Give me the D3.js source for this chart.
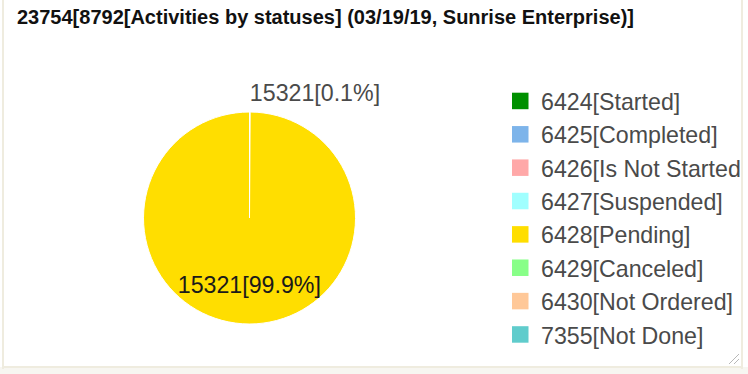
<!DOCTYPE html>
<html>
<head>
<meta charset="utf-8">
<script src="https://cdn.jsdelivr.net/npm/d3@7/dist/d3.min.js"></script>
<style>
  html, body { margin: 0; padding: 0; background: #fff; }
  svg { display: block; font-family: "Liberation Sans", Arial, sans-serif; }
</style>
</head>
<body>
<svg id="chart" width="748" height="374"></svg>
<script>
const titleText = "23754[8792[Activities by statuses] (03/19/19, Sunrise Enterprise)]";
const sliceLabels = ["15321[0.1%]", "15321[99.9%]"];
const sliceValues = [0.1, 99.9];
const sliceColors = ["#ffde00", "#ffde00"];
const legendLabels = ["6424[Started]", "6425[Completed]", "6426[Is Not Started]", "6427[Suspended]", "6428[Pending]", "6429[Canceled]", "6430[Not Ordered]", "7355[Not Done]"];
const legendColors = ["#009000", "#7db4ea", "#ffa8a8", "#a0ffff", "#ffde00", "#88ff88", "#ffc898", "#60cccc"];

const svg = d3.select("#chart");
const W = 748, H = 374;
const FS = 23.2;

svg.append("defs").append("clipPath").attr("id", "frameClip")
  .append("rect").attr("x", 4).attr("y", 0).attr("width", 736).attr("height", 366);

// frame
svg.append("rect").attr("x", 0).attr("y", 0).attr("width", W).attr("height", H).attr("fill", "#fff");
svg.append("rect").attr("x", 0).attr("y", 367).attr("width", W).attr("height", 7).attr("fill", "#f7f6f1");
svg.append("rect").attr("x", 2).attr("y", 0).attr("width", 2).attr("height", 369).attr("fill", "#efecdf");
svg.append("rect").attr("x", 741).attr("y", 0).attr("width", 2).attr("height", 369).attr("fill", "#efecdf");
svg.append("rect").attr("x", 2).attr("y", 366).attr("width", 741).attr("height", 2).attr("fill", "#efecdf");

// resize grip
const grip = svg.append("g").attr("stroke", "#b8b8b8").attr("stroke-width", 1);
grip.append("line").attr("x1", 729).attr("y1", 364).attr("x2", 739).attr("y2", 354);
grip.append("line").attr("x1", 734).attr("y1", 364).attr("x2", 739).attr("y2", 359);

const g = svg.append("g").attr("clip-path", "url(#frameClip)");

// title
g.append("text")
  .attr("x", 17).attr("y", 24)
  .attr("font-size", 20).attr("font-weight", "bold").attr("fill", "#111")
  .text(titleText);

// pie
const cx = 249.5, cy = 218, r = 106;
const pie = d3.pie().sort(null).value(d => d.v);
const arcs = pie(sliceValues.map((v, i) => ({ v, label: sliceLabels[i], color: sliceColors[i] })));
const arc = d3.arc().innerRadius(0).outerRadius(r);
const pg = g.append("g").attr("transform", `translate(${cx},${cy})`);
pg.selectAll("path").data(arcs).join("path")
  .attr("d", arc)
  .attr("fill", d => d.data.color)
  .attr("stroke", "#fff").attr("stroke-width", 1).attr("stroke-linejoin", "round");

arcs.forEach((d) => {
  const a = (d.startAngle + d.endAngle) / 2;
  if (d.endAngle - d.startAngle < 0.3) {
    const rr = r + 11;
    pg.append("text")
      .attr("x", Math.sin(a) * rr).attr("y", -Math.cos(a) * rr)
      .attr("font-size", FS).attr("fill", "#4a4a4a")
      .attr("text-anchor", "start")
      .text(d.data.label);
  } else {
    const rr = r * 0.63;
    pg.append("text")
      .attr("x", Math.sin(a) * rr).attr("y", -Math.cos(a) * rr)
      .attr("dy", "0.35em")
      .attr("font-size", FS).attr("fill", "#1a1a1a")
      .attr("text-anchor", "middle")
      .text(d.data.label);
  }
});

// legend
const ly = d3.scalePoint().domain(d3.range(legendLabels.length)).range([101, 334.5]);
const lg = g.append("g");
legendLabels.forEach((lab, i) => {
  const y = ly(i);
  lg.append("rect").attr("x", 512).attr("y", y - 8.3).attr("width", 16.5).attr("height", 16.5)
    .attr("fill", legendColors[i]);
  lg.append("text").attr("x", 541).attr("y", y + 9)
    .attr("font-size", FS).attr("fill", "#4a4a4a")
    .text(lab);
});
</script>
</body>
</html>
